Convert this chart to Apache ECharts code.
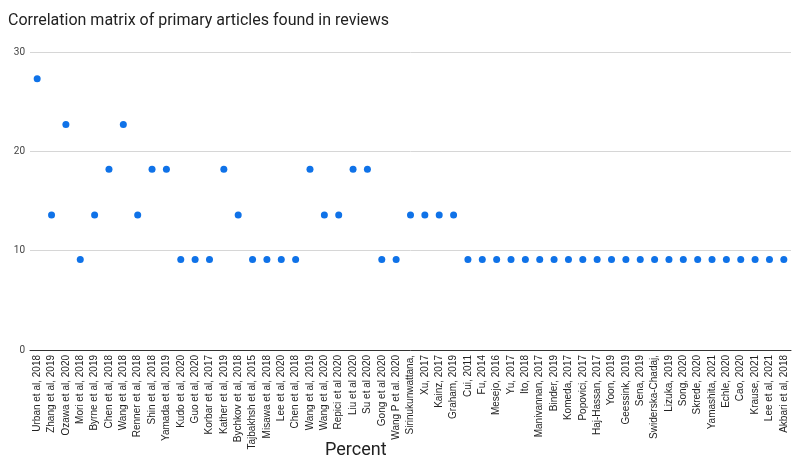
<!DOCTYPE html>
<html lang="en">
<head>
  <meta charset="UTF-8">
  <title>Correlation matrix</title>
  <script src="https://cdn.jsdelivr.net/npm/echarts@6/dist/echarts.min.js"></script>
  <style>
    html, body { margin: 0; padding: 0; background: #fff; }
  </style>
</head>
<body>
<div id="chart" style="width: 793px;height: 462px;"></div>
<script>
  // articles (x axis)
  var articles = [
    'Urban et al, 2018', 'Zhang et al, 2019', 'Ozawa et al, 2020', 'Mori et al, 2018',
    'Byrne et al, 2019', 'Chen et al, 2018', 'Wang et al, 2018', 'Renner et al, 2018',
    'Shin et al, 2018', 'Yamada et al, 2019', 'Kudo et al, 2020', 'Guo et al, 2020',
    'Korbar et al, 2017', 'Kather et al, 2019', 'Bychkov et al, 2018', 'Tajbakhsh et al, 2015',
    'Misawa et al, 2018', 'Lee et al, 2020', 'Chen et al, 2018', 'Wang et al, 2019',
    'Wang et al, 2020', 'Repici et al 2020', 'Liu et al 2020', 'Su et al 2020',
    'Gong et al 2020', 'Wang P et al. 2020', 'Sirinukunwattana,', 'Xu, 2017',
    'Kainz, 2017', 'Graham, 2019', 'Cui, 2011', 'Fu, 2014', 'Mesejo, 2016', 'Yu, 2017',
    'Ito, 2018', 'Manivannan, 2017', 'Binder, 2019', 'Komeda, 2017', 'Popovici, 2017',
    'Haj-Hassan, 2017', 'Yoon, 2019', 'Geessink, 2019', 'Sena, 2019', 'Swiderska-Chadaj,',
    'Lizuka, 2019', 'Song, 2020', 'Skrede, 2020', 'Yamashita, 2021', 'Echle, 2020',
    'Cao, 2020', 'Krause, 2021', 'Lee et al, 2021', 'Akbari et al, 2018'
  ];
  // percent values
  var percent = [
    27.3, 13.6, 22.7, 9.1, 13.6, 18.2, 22.7, 13.6, 18.2, 18.2,
    9.1, 9.1, 9.1, 18.2, 13.6, 9.1, 9.1, 9.1, 9.1, 18.2,
    13.6, 13.6, 18.2, 18.2, 9.1, 9.1, 13.6, 13.6, 13.6, 13.6,
    9.1, 9.1, 9.1, 9.1, 9.1, 9.1, 9.1, 9.1, 9.1, 9.1,
    9.1, 9.1, 9.1, 9.1, 9.1, 9.1, 9.1, 9.1, 9.1, 9.1,
    9.1, 9.1, 9.1
  ];
  var yTicks = [0, 10, 20, 30];

  var myChart = echarts.init(document.getElementById('chart'));
  var option = {
    animation: false,
    title: [
      {
        text: 'Correlation matrix of primary articles found in reviews',
        left: 3, top: 8,
        textStyle: { fontFamily: 'Roboto', fontSize: 16, fontWeight: 'normal', color: '#222' }
      },
      {
        text: 'Percent',
        left: 320, top: 436,
        textStyle: { fontFamily: 'Roboto', fontSize: 18, fontWeight: 'normal', color: '#222' }
      }
    ],
    grid: { left: 30, right: 2, top: 52, bottom: 112 },
    xAxis: {
      type: 'category',
      data: articles,
      axisLine: { lineStyle: { color: '#333', width: 1 } },
      axisTick: { show: false },
      axisLabel: {
        rotate: 90, interval: 0, margin: 5,
        fontFamily: 'Liberation Sans', fontSize: 10, color: '#222'
      }
    },
    yAxis: {
      type: 'value',
      min: yTicks[0], max: yTicks[yTicks.length - 1], interval: 10,
      axisLine: { show: false },
      axisTick: { show: false },
      splitLine: { lineStyle: { color: '#d6d6d6' } },
      axisLabel: { fontFamily: 'Roboto', fontSize: 10, color: '#444', margin: 5 }
    },
    series: [{
      type: 'scatter',
      data: percent,
      symbolSize: 7,
      itemStyle: { color: '#0f72e8', opacity: 1 }
    }]
  };
  myChart.setOption(option);
</script>
</body>
</html>
